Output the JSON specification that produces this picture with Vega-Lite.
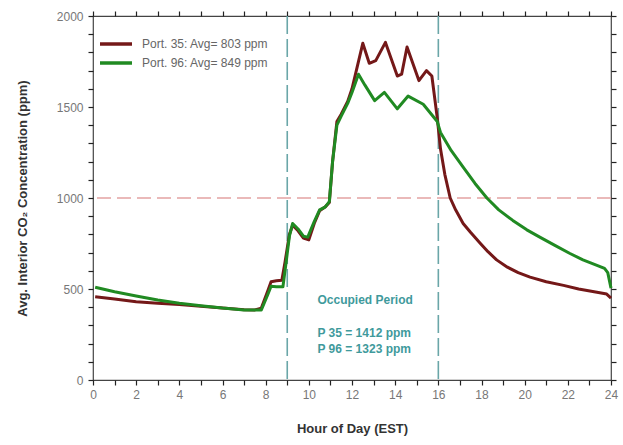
{
  "$schema": "https://vega.github.io/schema/vega-lite/v6.json",
  "width": 518,
  "height": 364,
  "autosize": {"type": "none"},
  "padding": {"left": 93, "top": 16, "right": 12, "bottom": 65},
  "background": "white",
  "config": {
    "view": {"stroke": "#444", "strokeWidth": 1.2},
    "font": "Liberation Sans",
    "axis": {
      "domainColor": "#444",
      "ticks": true,
      "tickColor": "#222",
      "tickWidth": 1.2,
      "tickSize": 5,
      "labelColor": "#777",
      "labelFontSize": 12,
      "labelFont": "Liberation Sans",
      "titleFont": "Liberation Sans",
      "titleFontSize": 13,
      "titleFontWeight": "bold",
      "titleColor": "#333",
      "grid": false
    }
  },
  "datasets": {
    "series": [
      {"hour": 0.1, "ppm": 458, "series": "Port. 35: Avg= 803 ppm"},
      {"hour": 1, "ppm": 445, "series": "Port. 35: Avg= 803 ppm"},
      {"hour": 2, "ppm": 430, "series": "Port. 35: Avg= 803 ppm"},
      {"hour": 3, "ppm": 422, "series": "Port. 35: Avg= 803 ppm"},
      {"hour": 4, "ppm": 415, "series": "Port. 35: Avg= 803 ppm"},
      {"hour": 5, "ppm": 405, "series": "Port. 35: Avg= 803 ppm"},
      {"hour": 6, "ppm": 395, "series": "Port. 35: Avg= 803 ppm"},
      {"hour": 7, "ppm": 386, "series": "Port. 35: Avg= 803 ppm"},
      {"hour": 7.5, "ppm": 385, "series": "Port. 35: Avg= 803 ppm"},
      {"hour": 7.8, "ppm": 395, "series": "Port. 35: Avg= 803 ppm"},
      {"hour": 8.1, "ppm": 490, "series": "Port. 35: Avg= 803 ppm"},
      {"hour": 8.25, "ppm": 540, "series": "Port. 35: Avg= 803 ppm"},
      {"hour": 8.5, "ppm": 545, "series": "Port. 35: Avg= 803 ppm"},
      {"hour": 8.75, "ppm": 548, "series": "Port. 35: Avg= 803 ppm"},
      {"hour": 8.9, "ppm": 650, "series": "Port. 35: Avg= 803 ppm"},
      {"hour": 9.1, "ppm": 800, "series": "Port. 35: Avg= 803 ppm"},
      {"hour": 9.25, "ppm": 850, "series": "Port. 35: Avg= 803 ppm"},
      {"hour": 9.5, "ppm": 820, "series": "Port. 35: Avg= 803 ppm"},
      {"hour": 9.75, "ppm": 780, "series": "Port. 35: Avg= 803 ppm"},
      {"hour": 10, "ppm": 770, "series": "Port. 35: Avg= 803 ppm"},
      {"hour": 10.25, "ppm": 860, "series": "Port. 35: Avg= 803 ppm"},
      {"hour": 10.5, "ppm": 930, "series": "Port. 35: Avg= 803 ppm"},
      {"hour": 10.75, "ppm": 950, "series": "Port. 35: Avg= 803 ppm"},
      {"hour": 10.95, "ppm": 975, "series": "Port. 35: Avg= 803 ppm"},
      {"hour": 11.1, "ppm": 1200, "series": "Port. 35: Avg= 803 ppm"},
      {"hour": 11.3, "ppm": 1420, "series": "Port. 35: Avg= 803 ppm"},
      {"hour": 11.5, "ppm": 1460, "series": "Port. 35: Avg= 803 ppm"},
      {"hour": 11.8, "ppm": 1530, "series": "Port. 35: Avg= 803 ppm"},
      {"hour": 12, "ppm": 1600, "series": "Port. 35: Avg= 803 ppm"},
      {"hour": 12.2, "ppm": 1700, "series": "Port. 35: Avg= 803 ppm"},
      {"hour": 12.5, "ppm": 1850, "series": "Port. 35: Avg= 803 ppm"},
      {"hour": 12.8, "ppm": 1740, "series": "Port. 35: Avg= 803 ppm"},
      {"hour": 13.1, "ppm": 1755, "series": "Port. 35: Avg= 803 ppm"},
      {"hour": 13.55, "ppm": 1855, "series": "Port. 35: Avg= 803 ppm"},
      {"hour": 14.1, "ppm": 1670, "series": "Port. 35: Avg= 803 ppm"},
      {"hour": 14.3, "ppm": 1680, "series": "Port. 35: Avg= 803 ppm"},
      {"hour": 14.55, "ppm": 1830, "series": "Port. 35: Avg= 803 ppm"},
      {"hour": 15.1, "ppm": 1645, "series": "Port. 35: Avg= 803 ppm"},
      {"hour": 15.45, "ppm": 1700, "series": "Port. 35: Avg= 803 ppm"},
      {"hour": 15.7, "ppm": 1670, "series": "Port. 35: Avg= 803 ppm"},
      {"hour": 15.95, "ppm": 1440, "series": "Port. 35: Avg= 803 ppm"},
      {"hour": 16.1, "ppm": 1270, "series": "Port. 35: Avg= 803 ppm"},
      {"hour": 16.3, "ppm": 1130, "series": "Port. 35: Avg= 803 ppm"},
      {"hour": 16.55, "ppm": 1000, "series": "Port. 35: Avg= 803 ppm"},
      {"hour": 16.8, "ppm": 935, "series": "Port. 35: Avg= 803 ppm"},
      {"hour": 17.15, "ppm": 860, "series": "Port. 35: Avg= 803 ppm"},
      {"hour": 17.5, "ppm": 810, "series": "Port. 35: Avg= 803 ppm"},
      {"hour": 17.95, "ppm": 750, "series": "Port. 35: Avg= 803 ppm"},
      {"hour": 18.3, "ppm": 705, "series": "Port. 35: Avg= 803 ppm"},
      {"hour": 18.7, "ppm": 660, "series": "Port. 35: Avg= 803 ppm"},
      {"hour": 19.2, "ppm": 620, "series": "Port. 35: Avg= 803 ppm"},
      {"hour": 19.7, "ppm": 590, "series": "Port. 35: Avg= 803 ppm"},
      {"hour": 20.25, "ppm": 565, "series": "Port. 35: Avg= 803 ppm"},
      {"hour": 21, "ppm": 540, "series": "Port. 35: Avg= 803 ppm"},
      {"hour": 21.8, "ppm": 520, "series": "Port. 35: Avg= 803 ppm"},
      {"hour": 22.5, "ppm": 500, "series": "Port. 35: Avg= 803 ppm"},
      {"hour": 23.35, "ppm": 482, "series": "Port. 35: Avg= 803 ppm"},
      {"hour": 23.8, "ppm": 472, "series": "Port. 35: Avg= 803 ppm"},
      {"hour": 24, "ppm": 450, "series": "Port. 35: Avg= 803 ppm"},
      {"hour": 0.1, "ppm": 510, "series": "Port. 96: Avg= 849 ppm"},
      {"hour": 1, "ppm": 485, "series": "Port. 96: Avg= 849 ppm"},
      {"hour": 2, "ppm": 462, "series": "Port. 96: Avg= 849 ppm"},
      {"hour": 3, "ppm": 440, "series": "Port. 96: Avg= 849 ppm"},
      {"hour": 4, "ppm": 422, "series": "Port. 96: Avg= 849 ppm"},
      {"hour": 5, "ppm": 408, "series": "Port. 96: Avg= 849 ppm"},
      {"hour": 6, "ppm": 395, "series": "Port. 96: Avg= 849 ppm"},
      {"hour": 7, "ppm": 385, "series": "Port. 96: Avg= 849 ppm"},
      {"hour": 7.8, "ppm": 385, "series": "Port. 96: Avg= 849 ppm"},
      {"hour": 8.1, "ppm": 470, "series": "Port. 96: Avg= 849 ppm"},
      {"hour": 8.25, "ppm": 515, "series": "Port. 96: Avg= 849 ppm"},
      {"hour": 8.5, "ppm": 512, "series": "Port. 96: Avg= 849 ppm"},
      {"hour": 8.8, "ppm": 512, "series": "Port. 96: Avg= 849 ppm"},
      {"hour": 8.95, "ppm": 650, "series": "Port. 96: Avg= 849 ppm"},
      {"hour": 9.1, "ppm": 790, "series": "Port. 96: Avg= 849 ppm"},
      {"hour": 9.25, "ppm": 860, "series": "Port. 96: Avg= 849 ppm"},
      {"hour": 9.5, "ppm": 830, "series": "Port. 96: Avg= 849 ppm"},
      {"hour": 9.75, "ppm": 790, "series": "Port. 96: Avg= 849 ppm"},
      {"hour": 9.95, "ppm": 785, "series": "Port. 96: Avg= 849 ppm"},
      {"hour": 10.25, "ppm": 870, "series": "Port. 96: Avg= 849 ppm"},
      {"hour": 10.5, "ppm": 935, "series": "Port. 96: Avg= 849 ppm"},
      {"hour": 10.75, "ppm": 950, "series": "Port. 96: Avg= 849 ppm"},
      {"hour": 10.95, "ppm": 980, "series": "Port. 96: Avg= 849 ppm"},
      {"hour": 11.1, "ppm": 1200, "series": "Port. 96: Avg= 849 ppm"},
      {"hour": 11.3, "ppm": 1400, "series": "Port. 96: Avg= 849 ppm"},
      {"hour": 11.5, "ppm": 1450, "series": "Port. 96: Avg= 849 ppm"},
      {"hour": 11.8, "ppm": 1520, "series": "Port. 96: Avg= 849 ppm"},
      {"hour": 12, "ppm": 1580, "series": "Port. 96: Avg= 849 ppm"},
      {"hour": 12.3, "ppm": 1680, "series": "Port. 96: Avg= 849 ppm"},
      {"hour": 12.6, "ppm": 1620, "series": "Port. 96: Avg= 849 ppm"},
      {"hour": 13.05, "ppm": 1535, "series": "Port. 96: Avg= 849 ppm"},
      {"hour": 13.5, "ppm": 1580, "series": "Port. 96: Avg= 849 ppm"},
      {"hour": 14.1, "ppm": 1490, "series": "Port. 96: Avg= 849 ppm"},
      {"hour": 14.6, "ppm": 1560, "series": "Port. 96: Avg= 849 ppm"},
      {"hour": 15.3, "ppm": 1515, "series": "Port. 96: Avg= 849 ppm"},
      {"hour": 15.95, "ppm": 1420, "series": "Port. 96: Avg= 849 ppm"},
      {"hour": 16.1, "ppm": 1360, "series": "Port. 96: Avg= 849 ppm"},
      {"hour": 16.6, "ppm": 1260, "series": "Port. 96: Avg= 849 ppm"},
      {"hour": 17.15, "ppm": 1170, "series": "Port. 96: Avg= 849 ppm"},
      {"hour": 17.7, "ppm": 1080, "series": "Port. 96: Avg= 849 ppm"},
      {"hour": 18.25, "ppm": 1000, "series": "Port. 96: Avg= 849 ppm"},
      {"hour": 18.8, "ppm": 935, "series": "Port. 96: Avg= 849 ppm"},
      {"hour": 19.45, "ppm": 877, "series": "Port. 96: Avg= 849 ppm"},
      {"hour": 20.1, "ppm": 825, "series": "Port. 96: Avg= 849 ppm"},
      {"hour": 20.7, "ppm": 785, "series": "Port. 96: Avg= 849 ppm"},
      {"hour": 21.4, "ppm": 740, "series": "Port. 96: Avg= 849 ppm"},
      {"hour": 22.1, "ppm": 695, "series": "Port. 96: Avg= 849 ppm"},
      {"hour": 22.7, "ppm": 660, "series": "Port. 96: Avg= 849 ppm"},
      {"hour": 23.35, "ppm": 630, "series": "Port. 96: Avg= 849 ppm"},
      {"hour": 23.7, "ppm": 613, "series": "Port. 96: Avg= 849 ppm"},
      {"hour": 23.85, "ppm": 590, "series": "Port. 96: Avg= 849 ppm"},
      {"hour": 24, "ppm": 505, "series": "Port. 96: Avg= 849 ppm"}
    ],
    "vlines": [{"hour": 9}, {"hour": 16}],
    "hlines": [{"ppm": 1000}],
    "notes": [
      {"hour": 10.4, "ppm": 440, "label": "Occupied Period"},
      {"hour": 10.4, "ppm": 258, "label": "P 35 = 1412 ppm"},
      {"hour": 10.4, "ppm": 168, "label": "P 96 = 1323 ppm"}
    ]
  },
  "layer": [
    {
      "data": {"name": "hlines"},
      "mark": {"type": "rule", "color": "#e3a3a3", "strokeWidth": 1.6, "strokeDash": [14, 6]},
      "encoding": {
        "y": {"field": "ppm", "type": "quantitative", "scale": {"domain": [0, 2000]},
          "axis": {"orient": "right", "labels": false, "title": null, "domain": false, "ticks": true,
            "values": [0,100,200,300,400,500,600,700,800,900,1000,1100,1200,1300,1400,1500,1600,1700,1800,1900,2000]}}
      }
    },
    {
      "data": {"name": "vlines"},
      "mark": {"type": "rule", "color": "#6aa6a8", "strokeWidth": 1.6, "strokeDash": [18, 5]},
      "encoding": {
        "x": {"field": "hour", "type": "quantitative", "scale": {"domain": [0, 24]},
          "axis": {"orient": "top", "labels": false, "title": null, "domain": false, "ticks": true,
            "values": [0,1,2,3,4,5,6,7,8,9,10,11,12,13,14,15,16,17,18,19,20,21,22,23,24]}}
      }
    },
    {
      "data": {"name": "series"},
      "mark": {"type": "line", "strokeWidth": 3, "strokeJoin": "round"},
      "encoding": {
        "x": {"field": "hour", "type": "quantitative", "scale": {"domain": [0, 24]},
          "axis": {"title": "Hour of Day (EST)", "domain": false, "ticks": true,
            "values": [0,1,2,3,4,5,6,7,8,9,10,11,12,13,14,15,16,17,18,19,20,21,22,23,24],
            "labelExpr": "datum.value % 2 === 0 ? datum.label : ''",
            "labelPadding": 4, "titlePadding": 22, "labelFlush": false}},
        "y": {"field": "ppm", "type": "quantitative", "scale": {"domain": [0, 2000]},
          "axis": {"title": "Avg. Interior CO₂ Concentration (ppm)", "domain": false, "ticks": true,
            "values": [0,100,200,300,400,500,600,700,800,900,1000,1100,1200,1300,1400,1500,1600,1700,1800,1900,2000],
            "labelExpr": "datum.value % 500 === 0 ? datum.label : ''",
            "format": "d",
            "labelPadding": 5, "titlePadding": 27}},
        "color": {"field": "series", "type": "nominal",
          "scale": {"domain": ["Port. 35: Avg= 803 ppm", "Port. 96: Avg= 849 ppm"], "range": ["#741818", "#208a22"]},
          "legend": {"title": null, "orient": "none", "legendX": 11, "legendY": 16,
            "symbolType": "M-1.6,0H1.6", "symbolSize": 400, "symbolStrokeWidth": 3.5,
            "labelFontSize": 12, "labelColor": "#666", "labelFont": "Liberation Sans",
            "labelOffset": 14, "rowPadding": -1}}
      }
    },
    {
      "data": {"name": "notes"},
      "mark": {"type": "text", "align": "left", "baseline": "middle", "fontSize": 12, "fontWeight": "bold", "color": "#3f9a9c"},
      "encoding": {
        "x": {"field": "hour", "type": "quantitative", "axis": null},
        "y": {"field": "ppm", "type": "quantitative", "axis": null},
        "text": {"field": "label"}
      }
    }
  ],
  "resolve": {"axis": {"x": "independent", "y": "independent"}}
}
